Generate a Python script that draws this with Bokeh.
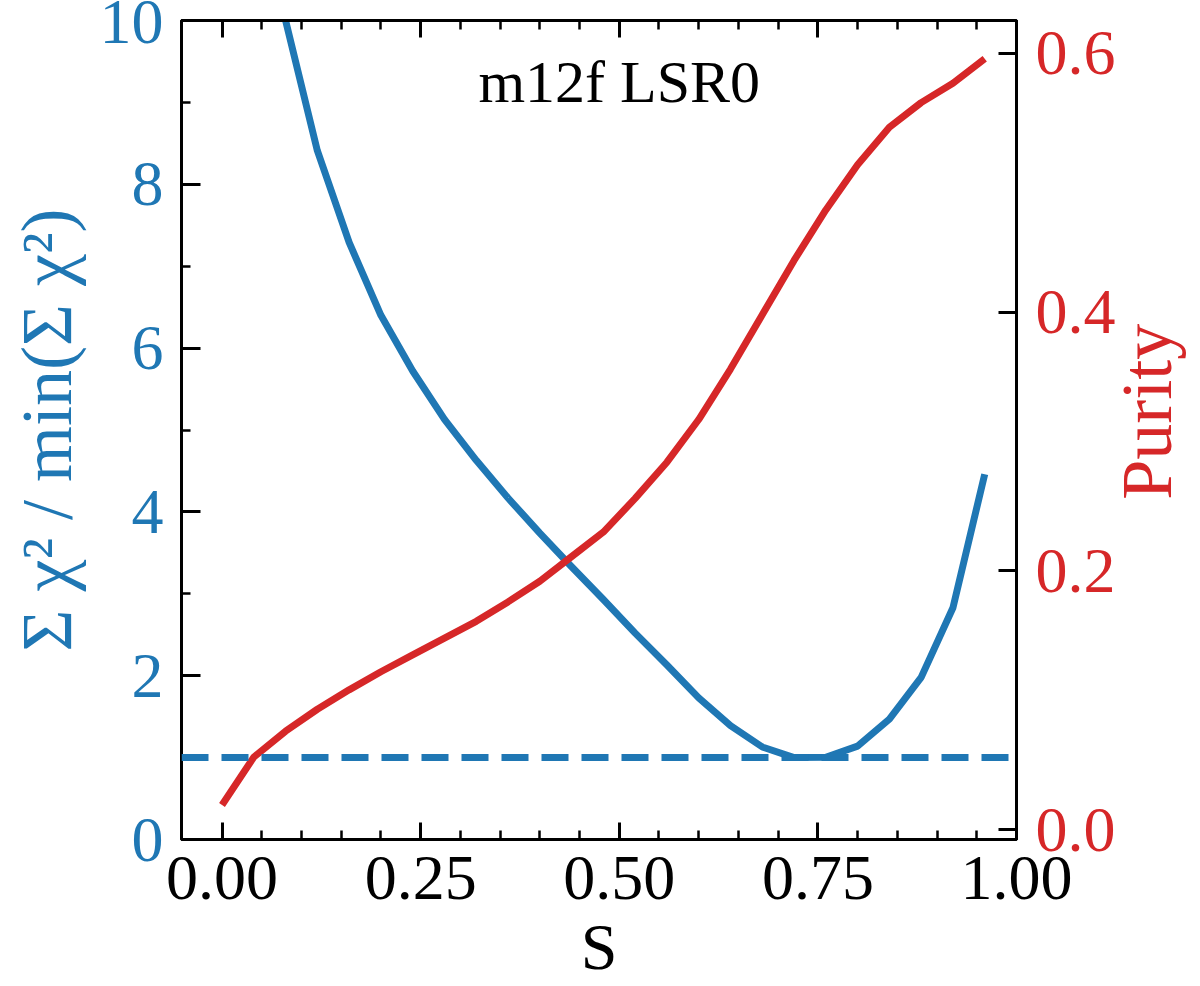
import math

import numpy as np
from bokeh.embed import file_html
from bokeh.models import FixedTicker, Label, LinearAxis, Range1d, Span
from bokeh.plotting import figure
from bokeh.resources import INLINE

# blue curve: sum chi^2 / min(sum chi^2) against S
s_chi = [0.08, 0.12, 0.16, 0.20, 0.24, 0.28, 0.32, 0.36, 0.40, 0.44, 0.48,
         0.52, 0.56, 0.60, 0.64, 0.68, 0.72, 0.76, 0.80, 0.84, 0.88, 0.92, 0.96]
chi2_ratio = [10.0, 8.41, 7.29, 6.40, 5.72, 5.13, 4.63, 4.17, 3.74, 3.33, 2.93,
              2.52, 2.13, 1.73, 1.39, 1.13, 1.0, 1.005, 1.14, 1.47, 1.98, 2.83, 4.46]

# red curve: purity against S
s_pur = [0.00, 0.04, 0.08, 0.12, 0.16, 0.20, 0.24, 0.28, 0.32, 0.36, 0.40,
         0.44, 0.48, 0.52, 0.56, 0.60, 0.64, 0.68, 0.72, 0.76, 0.80, 0.84,
         0.88, 0.92, 0.96]
purity = [0.019, 0.056, 0.076, 0.093, 0.108, 0.122, 0.135, 0.148, 0.161, 0.176,
          0.192, 0.211, 0.230, 0.256, 0.284, 0.317, 0.356, 0.398, 0.440, 0.479,
          0.514, 0.543, 0.562, 0.577, 0.596]

chi2_reference = 1.0
panel_label = "m12f LSR0"

x_ticks = [0.0, 0.25, 0.5, 0.75, 1.0]
x_tick_labels = ["0.00", "0.25", "0.50", "0.75", "1.00"]
chi_ticks = [0, 2, 4, 6, 8, 10]
chi_tick_labels = ["0", "2", "4", "6", "8", "10"]
pur_ticks = [0.0, 0.2, 0.4, 0.6]
pur_tick_labels = ["0.0", "0.2", "0.4", "0.6"]

BLUE = "#1f77b4"
RED = "#d62728"
FONT = "Liberation Serif"

p = figure(
    width=1198, height=985,
    x_range=Range1d(-0.051, 1.0), y_range=Range1d(0, 10),
    output_backend="svg", toolbar_location=None,
    min_border_left=181, min_border_right=177,
    min_border_top=20, min_border_bottom=145,
    x_axis_label="S", y_axis_label="Σ χ² / min(Σ χ²)")
p.extra_y_ranges = {"purity": Range1d(-0.0077, 0.6255)}
p.grid.visible = False
p.outline_line_color = "black"
p.outline_line_width = 3
p.background_fill_color = "white"
p.border_fill_color = "white"


def style_axis(ax, color, tick_in=17):
    ax.axis_line_width = 3
    ax.axis_line_color = "black"
    ax.major_tick_in = tick_in
    ax.major_tick_out = 0
    ax.minor_tick_in = 9
    ax.minor_tick_out = 0
    ax.major_tick_line_width = 3
    ax.minor_tick_line_width = 2.5
    ax.major_label_text_font = FONT
    ax.major_label_text_font_size = "64px"
    ax.major_label_text_color = color
    ax.axis_label_text_font = FONT
    ax.axis_label_text_font_size = "66px"
    ax.axis_label_text_font_style = "normal"
    ax.axis_label_text_color = color


x_minor = list(np.round(np.arange(0.0, 1.0001, 0.05), 2))
x_ticker = FixedTicker(ticks=x_ticks, minor_ticks=x_minor)

xa = p.xaxis[0]
xa.ticker = x_ticker
xa.major_label_overrides = dict(zip(x_ticks, x_tick_labels))
style_axis(xa, "black")
xa.major_label_standoff = 17
xa.axis_label_standoff = 8

# top side: ticks only
top = LinearAxis(ticker=x_ticker)
style_axis(top, "black")
top.major_label_overrides = {t: "" for t in x_ticks}
top.major_label_standoff = 0
p.add_layout(top, "above")

ya = p.yaxis[0]
ya.ticker = FixedTicker(ticks=chi_ticks, minor_ticks=[1, 3, 5, 7, 9])
ya.major_label_overrides = dict(zip(chi_ticks, chi_tick_labels))
style_axis(ya, BLUE, tick_in=19)
ya.axis_label_text_font_size = "72px"
ya.major_label_standoff = 18
ya.axis_label_standoff = 10

ra = LinearAxis(y_range_name="purity",
                ticker=FixedTicker(ticks=pur_ticks, minor_ticks=[]))
ra.major_label_overrides = dict(zip(pur_ticks, pur_tick_labels))
style_axis(ra, RED, tick_in=18)
ra.major_label_standoff = 19
p.add_layout(ra, "right")

# right-hand axis title, read bottom to top (kept in a side panel so the
# frame does not clip it)
p.add_layout(Label(x=1.164, y=0.323, y_range_name="purity", text="Purity",
                   angle=math.pi / 2, text_align="center",
                   text_baseline="middle", text_font=FONT,
                   text_font_size="72px", text_color=RED), "right")

p.add_layout(Span(location=chi2_reference, dimension="width",
                  line_color=BLUE, line_width=7, line_dash="27 13"))

p.line(s_chi, chi2_ratio, line_color=BLUE, line_width=7, line_join="round")
p.line(s_pur, purity, y_range_name="purity", line_color=RED, line_width=7,
       line_join="round")

p.add_layout(Label(x=0.5, y=9.25, text=panel_label, text_align="center",
                   text_baseline="middle", text_font=FONT,
                   text_font_size="60px", text_color="black"))

open("out.html", "w").write(file_html(p, INLINE))
